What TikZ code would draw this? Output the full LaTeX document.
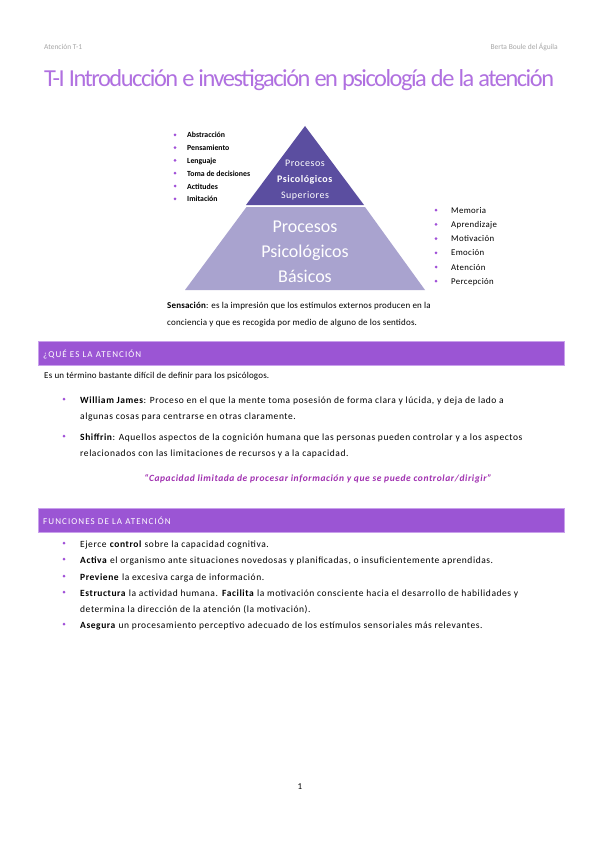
\documentclass[tikz,border=0pt]{standalone}
\usepackage{fontspec}
\setmainfont{Carlito}
\definecolor{dpur}{HTML}{5B4EA0}
\definecolor{lpur}{HTML}{A9A3CF}
\definecolor{bar}{HTML}{9B55D4}
\definecolor{barb}{HTML}{C9A0EC}
\definecolor{blt}{HTML}{A050D8}
\definecolor{quote}{HTML}{A030B0}
\definecolor{ttl}{HTML}{B070E0}
\tikzset{
  ltxt/.style={anchor=base west,inner sep=0pt,font=\bfseries\fontsize{7.8}{9}\selectfont},
  rtxt/.style={anchor=base west,inner sep=0pt,font=\fontsize{8.8}{10}\selectfont\addfontfeature{LetterSpace=4}},
  bul/.style={circle,fill=blt,inner sep=0pt,minimum size=3pt},
  barbox/.style={fill=bar,draw=barb,line width=1.2pt},
  bartxt/.style={anchor=base west,inner sep=0pt,text=white,font=\fontsize{9}{10}\selectfont\addfontfeature{LetterSpace=12}},
  para/.style={anchor=base west,inner sep=0pt,align=left,font=\fontsize{9.5}{16}\selectfont\addfontfeature{LetterSpace=6}}
}
\begin{document}
\begin{tikzpicture}[x=1pt,y=-1pt]
\useasboundingbox[fill=white] (0,0) rectangle (600,848);
% header
\node[anchor=base west,inner sep=0pt,text=black!35,font=\fontsize{7.5}{9}\selectfont] (h1) at (44,50) {Atención T-1};
\node[anchor=base east,inner sep=0pt,text=black!35,font=\fontsize{7.5}{9}\selectfont] (h2) at (558,50) {Berta Boule del Águila};
\node[anchor=base west,inner sep=0pt,text=ttl] (title) at (44,87) {\resizebox{510pt}{!}{\fontsize{22}{24}\selectfont\addfontfeature{LetterSpace=-6}T-I Introducción e investigación en psicología de la atención}};
% pyramid
\coordinate (apex) at (305,126);
\fill[dpur] (apex) -- (364,205) -- (246,205) -- cycle;
\fill[lpur] (246.5,207) -- (365,207) -- (425,290) -- (185,290) -- cycle;
\node[text=white,align=center,inner sep=0pt,font=\fontsize{10}{16}\selectfont\addfontfeature{LetterSpace=5}] (sup) at (305,180) {Procesos\\\textbf{Psicológicos}\\Superiores};
\node[text=white,align=center,inner sep=0pt,font=\fontsize{18}{25}\selectfont] (bas) at (305,252) {Procesos\\Psicológicos\\Básicos};
% left list
\foreach \t [count=\i] in {Abstracción,Pensamiento,Lenguaje,Toma de decisiones,Actitudes,Imitación}{
  \node[bul] (lb\i) at (175,122+12.8*\i) {};
  \node[ltxt] (lt\i) at (187,125+12.8*\i) {\t};
}
% right list
\foreach \t [count=\i] in {Memoria,Aprendizaje,Motivación,Emoción,Atención,Percepción}{
  \node[bul] (rb\i) at (436,196+14.2*\i) {};
  \node[rtxt] (rt\i) at (451,199+14.2*\i) {\t};
}
\node[anchor=base west,inner sep=0pt,align=left,font=\fontsize{9}{17}\selectfont\addfontfeature{LetterSpace=2}] (sens) at (167,325) {\textbf{Sensación}: es la impresión que los estímulos externos producen en la\\conciencia y que es recogida por medio de alguno de los sentidos.};
% section 1
\node[barbox,minimum width=526pt,minimum height=24pt,anchor=north west,inner sep=0pt] (bar1) at (38,341) {};
\node[bartxt] (bar1t) at (43,357) {¿QUÉ ES LA ATENCIÓN};
\node[anchor=base west,inner sep=0pt,font=\fontsize{9}{10}\selectfont\addfontfeature{LetterSpace=2}] (def) at (44,378) {Es un término bastante difícil de definir para los psicólogos.};
\node[bul] (b1) at (64,399) {};
\node[para] (p1) at (80,419) {\textbf{William James}: Proceso en el que la mente toma posesión de forma clara y lúcida, y deja de lado a\\algunas cosas para centrarse en otras claramente.};
\node[bul] (b2) at (64,436) {};
\node[para] (p2) at (80,456) {\textbf{Shiffrin}: Aquellos aspectos de la cognición humana que las personas pueden controlar y a los aspectos\\relacionados con las limitaciones de recursos y a la capacidad.};
\node[text=quote,inner sep=0pt,font=\bfseries\itshape\fontsize{9.5}{10}\selectfont\addfontfeature{LetterSpace=6}] (q) at (318,479) {“Capacidad limitada de procesar información y que se puede controlar/dirigir”};
% section 2
\node[barbox,minimum width=526pt,minimum height=24pt,anchor=north west,inner sep=0pt] (bar2) at (38,508) {};
\node[bartxt] (bar2t) at (43,524) {FUNCIONES DE LA ATENCIÓN};
\node[bul] (c1) at (64,543) {};
\node[para] (f1) at (80,547) {Ejerce \textbf{control} sobre la capacidad cognitiva.};
\node[bul] (c2) at (64,559) {};
\node[para] (f2) at (80,563) {\textbf{Activa} el organismo ante situaciones novedosas y planificadas, o insuficientemente aprendidas.};
\node[bul] (c3) at (64,576) {};
\node[para] (f3) at (80,580) {\textbf{Previene} la excesiva carga de información.};
\node[bul] (c4) at (64,592) {};
\node[para] (f4) at (80,612) {\textbf{Estructura} la actividad humana. \textbf{Facilita} la motivación consciente hacia el desarrollo de habilidades y\\determina la dirección de la atención (la motivación).};
\node[bul] (c5) at (64,624) {};
\node[para] (f5) at (80,628) {\textbf{Asegura} un procesamiento perceptivo adecuado de los estímulos sensoriales más relevantes.};
\node[inner sep=0pt,font=\fontsize{9}{10}\selectfont] (pg) at (300,787) {1};
\end{tikzpicture}
\end{document}
